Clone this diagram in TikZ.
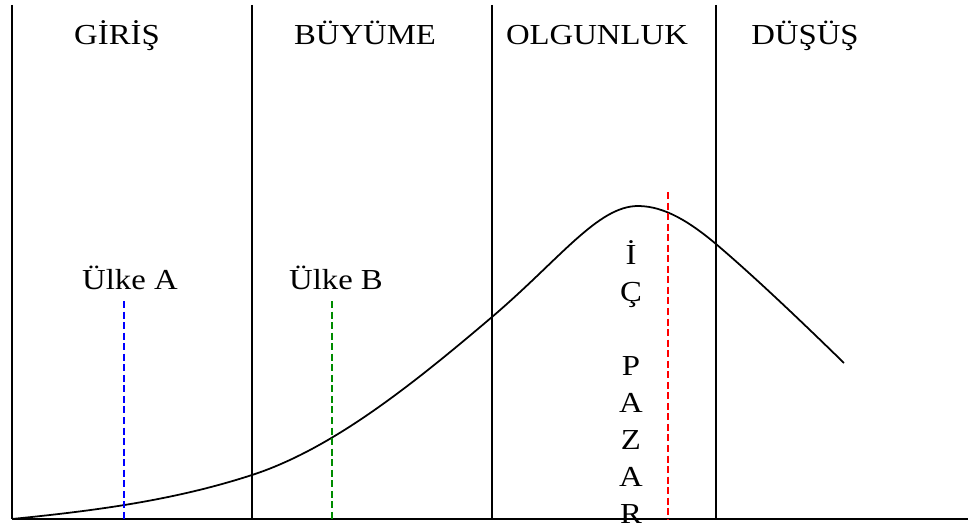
\documentclass[tikz,border=0pt]{standalone}
\usepackage{fontspec}
\setmainfont{Liberation Serif}[FakeStretch=1.13]
\usepackage{xcolor}
\usetikzlibrary{calc, positioning}

\tikzset{
    evre/.style={font=\fontsize{16.5}{20}\selectfont, anchor=base},
    ulke/.style={font=\fontsize{16.5}{20}\selectfont, anchor=base},
    kesik/.style={line width=1.1pt, dash pattern=on 4pt off 2pt}
}

\begin{document}
\begin{tikzpicture}[x=0.02cm, y=-0.02cm, line width=0.9pt]
    \useasboundingbox (0,0) rectangle (968,527);
    % Eksen ve evre çizgileri
    \draw (12,519) -- (968,519);
    \foreach \xx in {12, 252, 492, 716}
        \draw (\xx,5) -- (\xx,519);
    
    \node[evre] (giris) at (117,45) {GİRİŞ};
    \node[evre] (buyume) at (365,45) {BÜYÜME};
    \node[evre] (olgunluk) at (597,45) {OLGUNLUK};
    \node[evre] (dusus) at (805,45) {DÜŞÜŞ};
    
    % Ürün yaşam eğrisi
    \draw[line width=1pt] (12,519) .. controls (92,511) and (172,501) .. (252,475)
        .. controls (332,449) and (412,385) .. (492,317)
        .. controls (560,259) and (598,206) .. (638,206)
        .. controls (665,206) and (691,223) .. (716,244)
        .. controls (756,278) and (804,324) .. (844,363);
    
    \node[ulke] (ulkeA) at (130,290) {Ülke A};
    \node[ulke] (ulkeB) at (336,290) {Ülke B};
    \coordinate (a1) at (124,301);
    \coordinate (a2) at (124,519);
    \coordinate (b1) at (332,301);
    \coordinate (b2) at (332,519);
    \coordinate (c1) at (668,192);
    \coordinate (c2) at (668,519);
    \draw[kesik, blue] (a1) -- (a2);
    \draw[kesik, green!55!black] (b1) -- (b2);
    \draw[kesik, red] (c1) -- (c2);
    
    \node[font=\fontsize{16.5}{21}\selectfont, align=center, anchor=base, inner sep=0pt]
        (icpazar) at (631,523) {İ\\Ç\\\mbox{}\\P\\A\\Z\\A\\R};
\end{tikzpicture}
\end{document}
